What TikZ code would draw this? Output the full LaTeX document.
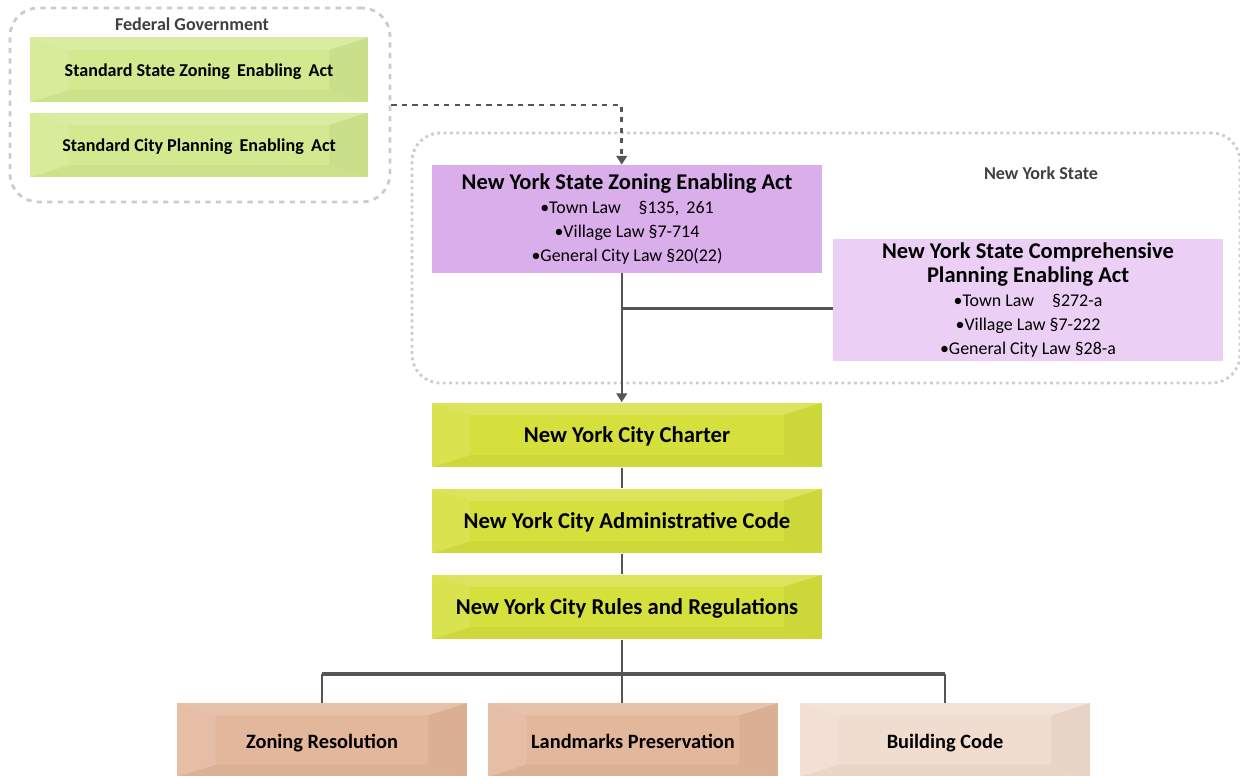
\documentclass[tikz,border=0pt]{standalone}
\usepackage{fontspec}
\setmainfont{Carlito}
\usetikzlibrary{arrows.meta}

\definecolor{fedgreen}{HTML}{D3E98F}
\definecolor{zonepurple}{HTML}{DAADEB}
\definecolor{comppurple}{HTML}{EBCFF4}
\definecolor{cityyellow}{HTML}{D5E03D}
\definecolor{salmon}{HTML}{E3B79B}
\definecolor{paleskin}{HTML}{F1DDD0}
\definecolor{linkgray}{HTML}{555555}

\newcommand{\statetitlefont}{\fontsize{12.8}{15}\selectfont\bfseries}

\tikzset{
  bevel/.style={path picture={
    \fill[white,opacity=0.16] (path picture bounding box.north west) -- (path picture bounding box.north east)
      -- ([xshift=-22pt,yshift=-7pt]path picture bounding box.north east) -- ([xshift=22pt,yshift=-7pt]path picture bounding box.north west) -- cycle;
    \fill[white,opacity=0.10] (path picture bounding box.north west) -- ([xshift=22pt,yshift=-7pt]path picture bounding box.north west)
      -- ([xshift=22pt,yshift=7pt]path picture bounding box.south west) -- (path picture bounding box.south west) -- cycle;
    \fill[black,opacity=0.04] (path picture bounding box.north east) -- ([xshift=-22pt,yshift=-7pt]path picture bounding box.north east)
      -- ([xshift=-22pt,yshift=7pt]path picture bounding box.south east) -- (path picture bounding box.south east) -- cycle;
    \fill[black,opacity=0.03] (path picture bounding box.south west) -- ([xshift=22pt,yshift=7pt]path picture bounding box.south west)
      -- ([xshift=-22pt,yshift=7pt]path picture bounding box.south east) -- (path picture bounding box.south east) -- cycle;
  }},
  group/.style={draw=gray!40, line width=1.6pt, rounded corners=16pt, inner sep=0pt},
  fedbox/.style={bevel, fill=fedgreen, minimum width=6.76cm, minimum height=1.3cm,
    text height=1.9ex, text depth=0.45ex, font=\fontsize{10.3}{12}\selectfont\bfseries},
  statebox/.style={fill=#1, minimum width=7.8cm, align=center, inner sep=2pt,
    font=\fontsize{10.2}{13.6}\selectfont},
  citybox/.style={bevel, fill=cityyellow, minimum width=7.82cm, minimum height=1.3cm,
    text height=2.2ex, text depth=0.45ex, font=\fontsize{12.9}{15}\selectfont\bfseries},
  codebox/.style={bevel, fill=#1, minimum width=5.8cm, minimum height=1.48cm,
    text height=2.4ex, text depth=0.45ex, font=\fontsize{11.6}{13}\selectfont\bfseries},
  grouplabel/.style={font=\fontsize{10.3}{12}\selectfont\bfseries, text=black!75},
  link/.style={draw=linkgray, line width=1.3pt},
  thicklink/.style={draw=linkgray, line width=2pt},
  tip/.style={-{Triangle[length=5pt,width=6pt]}}
}

\begin{document}
\begin{tikzpicture}[x=0.02cm, y=-0.02cm]
  \useasboundingbox (0,0) rectangle (1240,776);

  % Federal Government
  \node[group, dashed, minimum width=7.6cm, minimum height=3.88cm] (fed) at (200,105) {};
  \node[grouplabel] (fedlabel) at (192,24) {Federal Government};
  \node[fedbox] (sszea) at (199,70) {Standard State Zoning\, Enabling\, Act};
  \node[fedbox] (scpea) at (199,145) {Standard City Planning\, Enabling\, Act};

  % New York State
  \node[group, dotted, minimum width=16.56cm, minimum height=5cm] (nys) at (826,258) {};
  \node[grouplabel] (nyslabel) at (1041,173) {New York State};
  \node[statebox=zonepurple, minimum height=2.16cm] (nyzone) at (627,219)
    {{\statetitlefont New York State Zoning Enabling Act}\\
     •Town Law\quad§135,\, 261\\ •Village Law §7-714\\ •General City Law §20(22)};
  \node[statebox=comppurple, minimum height=2.38cm] (nycomp) at (1028,300)
    {{\statetitlefont New York State Comprehensive}\\
     {\statetitlefont Planning Enabling Act}\\
     •Town Law\quad§272-a\\ •Village Law §7-222\\ •General City Law §28-a};

  % New York City
  \node[citybox] (charter) at (627,435) {New York City Charter};
  \node[citybox] (admin) at (627,521) {New York City Administrative Code};
  \node[citybox] (rules) at (627,607) {New York City Rules and Regulations};

  \node[codebox=salmon] (zoneres) at (322,740) {Zoning Resolution};
  \node[codebox=salmon] (landmarks) at (633,740) {Landmarks Preservation};
  \node[codebox=paleskin] (bldg) at (945,740) {Building Code};

  % connectors
  \draw[link, dashed, line width=1.5pt, tip] (fed.east) -| ([xshift=-3pt]nyzone.north);
  \draw[link, tip] ([xshift=-3pt]nyzone.south) -- ([xshift=-3pt]charter.north);
  \path ([xshift=-3pt]nyzone.south) ++(0,35) coordinate (tee);
  \draw[thicklink] (tee) -- (tee -| nycomp.west);
  \draw[link] ([xshift=-3pt]charter.south) -- ([xshift=-3pt]admin.north);
  \draw[link] ([xshift=-3pt]admin.south) -- ([xshift=-3pt]rules.north);
  \path ([xshift=-3pt]rules.south) ++(0,34) coordinate (split);
  \draw[link] ([xshift=-3pt]rules.south) -- (split);
  \draw[thicklink] (zoneres.north |- split) -- (bldg.north |- split);
  \draw[link] (zoneres.north |- split) -- (zoneres.north);
  \draw[link] (split) -- (split |- landmarks.north);
  \draw[link] (bldg.north |- split) -- (bldg.north);
\end{tikzpicture}
\end{document}
